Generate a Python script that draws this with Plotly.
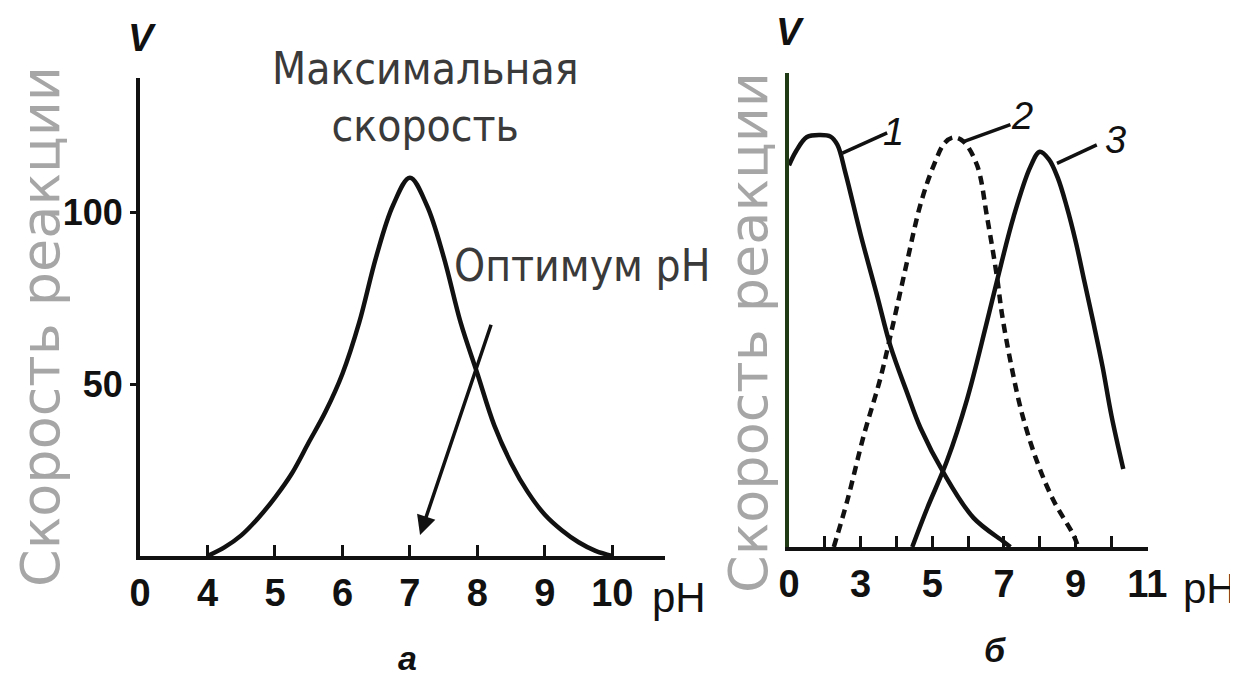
import plotly.graph_objects as go

# ---------------- data ----------------
# Panel "а": single enzyme, rate vs pH (axis broken: origin labelled 0, then 4..10)
ph_a = [4.0, 4.25, 4.5, 4.75, 5.0, 5.25, 5.5, 5.75, 6.0, 6.25, 6.5, 6.75, 7.0, 7.25, 7.5, 7.75, 8.0, 8.25, 8.5, 8.75, 9.0, 9.25, 9.5, 9.75, 10.0]
v_a = [0, 2.5, 6, 11, 17, 24, 33, 42, 53, 68, 87, 102, 110, 102, 87, 68, 53, 38, 27, 18.5, 12, 7.5, 4, 1.5, 0]

# Panel "б": three enzymes (1, 2 dashed, 3)
ph_1 = [1.0, 1.2, 1.5, 1.88, 2.16, 2.35, 2.58, 3.0, 3.46, 3.83, 4.3, 4.67, 5.32, 6.15, 6.99, 7.18]
v_1 = [93, 96.5, 99.9, 100.4, 100.0, 98.0, 91.0, 76.1, 61.2, 49.0, 37.5, 29.0, 18.0, 7.1, 1.3, 0]
ph_2 = [2.25, 2.63, 3.09, 3.55, 3.92, 4.3, 4.67, 5.04, 5.35, 5.6, 5.87, 6.25, 6.53, 6.81, 6.94, 7.18, 7.5, 7.92, 8.38, 8.94, 9.07]
v_2 = [0, 11.4, 27.3, 41.1, 54.9, 69.7, 83.5, 93.0, 98.5, 99.8, 98.8, 93.0, 80.3, 65.5, 57.0, 45.3, 32.6, 20.9, 11.4, 2.9, 0]
ph_3 = [4.44, 4.86, 5.41, 5.97, 6.5, 6.81, 7.27, 7.73, 8.0, 8.25, 8.5, 8.75, 9.0, 9.25, 9.5, 9.75, 10.0, 10.33]
v_3 = [0, 9.5, 21, 36, 54, 65, 80.5, 92.5, 96.3, 94.5, 90, 83, 74.5, 64.5, 54.5, 44, 32, 19]

# tick labels
ticks_a_vals = [3, 4, 5, 6, 7, 8, 9, 10]
ticks_a_text = ["0", "4", "5", "6", "7", "8", "9", "10"]
ticks_b_vals = [1, 2, 3, 4, 5, 6, 7, 8, 9, 10, 11]
ticks_b_text = ["0", "", "3", "", "5", "", "7", "", "9", "", "11"]
yticks_a_vals = [50, 100]
yticks_a_text = ["50", "100"]

# annotation anchors (data coords)
arrow_tail = (8.21, 67.7)
arrow_head = (7.15, 6.1)
leaders = {"1": ((2.49, 96.0), (3.74, 100.9), (3.92, 101.1)),
           "2": ((5.87, 98.8), (7.18, 102.9), (7.51, 105.0)),
           "3": ((8.48, 93.5), (9.59, 98.0), (10.10, 99.2))}

# the page body has an 8px margin: the figure is sized to fill the rest of the window
PAGE_W, PAGE_H, BODY = 1238, 682, 8
W, H = PAGE_W - BODY, PAGE_H - BODY
def px(x): return (x - BODY) / W
def py(y): return 1 - (y - BODY) / H

INK = "#111111"

fig = go.Figure()
line_kw = dict(color=INK, width=4.5, shape="spline", smoothing=1.0)
fig.add_trace(go.Scatter(x=ph_a, y=v_a, mode="lines", line=line_kw, xaxis="x", yaxis="y", hoverinfo="skip"))
fig.add_trace(go.Scatter(x=ph_1, y=v_1, mode="lines", line=line_kw, xaxis="x2", yaxis="y2", hoverinfo="skip"))
fig.add_trace(go.Scatter(x=ph_2, y=v_2, mode="lines", line=dict(line_kw, dash="9px,6px"),
                         xaxis="x2", yaxis="y2", hoverinfo="skip"))
fig.add_trace(go.Scatter(x=ph_3, y=v_3, mode="lines", line=line_kw, xaxis="x2", yaxis="y2", hoverinfo="skip"))

tickfont = dict(family="Liberation Sans, sans-serif", size=38, color=INK, weight="bold")
axis_common = dict(showgrid=False, zeroline=False, showline=True, linecolor=INK, linewidth=4, automargin=False)

fig.update_layout(
    width=W, height=H, margin=dict(l=0, r=0, t=0, b=0, autoexpand=False),
    paper_bgcolor="white", plot_bgcolor="white", showlegend=False,
    xaxis=dict(domain=[px(140), px(665)], range=[3, 10.78], anchor="y",
               tickmode="array", tickvals=ticks_a_vals, ticktext=ticks_a_text,
               ticks="inside", ticklen=11, tickwidth=3, tickcolor=INK, tickfont=tickfont, **axis_common),
    yaxis=dict(domain=[py(556), py(78)], range=[0, 139], anchor="x",
               tickmode="array", tickvals=yticks_a_vals, ticktext=yticks_a_text,
               ticks="outside", ticklen=6, tickwidth=3, tickcolor=INK,
               tickfont=dict(family="Liberation Sans, sans-serif", size=36, color=INK, weight="bold"), **axis_common),
    xaxis2=dict(domain=[px(789), px(1148)], range=[1, 11.02], anchor="y2",
                tickmode="array", tickvals=ticks_b_vals, ticktext=ticks_b_text,
                ticks="inside", ticklen=11, tickwidth=3, tickcolor=INK, tickfont=tickfont, **axis_common),
    yaxis2=dict(domain=[py(547), py(73)], range=[0, 115.5], anchor="x2",
                showticklabels=False, ticks="", showgrid=False, zeroline=False, automargin=False,
                showline=True, linecolor="#1f3a14", linewidth=4),
)

ann = []
title_font = dict(family="DejaVu Sans, sans-serif", size=54, color="#a6a6a6")
ann.append(dict(text="Скорость реакции", x=px(40), y=py(327), xref="paper", yref="paper",
                textangle=-90, showarrow=False, font=title_font, xanchor="center", yanchor="middle"))
ann.append(dict(text="Скорость реакции", x=px(748), y=py(333), xref="paper", yref="paper",
                textangle=-90, showarrow=False, font=title_font, xanchor="center", yanchor="middle"))
label_font = dict(family="DejaVu Sans Condensed, Liberation Sans, sans-serif", size=44, color="#3a3a3a")
ann.append(dict(text="Максимальная<br>скорость", x=px(425), y=py(97), xref="paper", yref="paper",
                showarrow=False, font=label_font, xanchor="center", yanchor="middle"))
ann.append(dict(text="Оптимум pH", x=px(582), y=py(265), xref="paper", yref="paper",
                showarrow=False, font=label_font, xanchor="center", yanchor="middle"))
ph_font = dict(family="Liberation Sans, sans-serif", size=42, color=INK)
ann.append(dict(text="pH", x=px(679), y=py(597), xref="paper", yref="paper",
                showarrow=False, font=ph_font, xanchor="center", yanchor="middle"))
ann.append(dict(text="pH", x=px(1210), y=py(588), xref="paper", yref="paper",
                showarrow=False, font=ph_font, xanchor="center", yanchor="middle"))
it_font = dict(family="Liberation Sans, sans-serif", size=38, color=INK, style="italic", weight="bold")
ann.append(dict(text="V", x=px(142), y=py(38), xref="paper", yref="paper",
                showarrow=False, font=it_font, xanchor="center", yanchor="middle"))
ann.append(dict(text="V", x=px(790), y=py(32), xref="paper", yref="paper",
                showarrow=False, font=it_font, xanchor="center", yanchor="middle"))
sub_font = dict(family="Liberation Sans, sans-serif", size=34, color=INK, style="italic", weight="bold")
ann.append(dict(text="а", x=px(407), y=py(658), xref="paper", yref="paper",
                showarrow=False, font=sub_font, xanchor="center", yanchor="middle"))
ann.append(dict(text="б", x=px(995), y=py(650), xref="paper", yref="paper",
                showarrow=False, font=sub_font, xanchor="center", yanchor="middle"))
# arrow "Оптимум pH"
ann.append(dict(x=arrow_head[0], y=arrow_head[1], ax=arrow_tail[0], ay=arrow_tail[1],
                xref="x", yref="y", axref="x", ayref="y", text="", showarrow=True,
                arrowhead=2, arrowsize=1.1, arrowwidth=3.5, arrowcolor=INK))
# leader lines + numbers
shapes = []
for name, (p0, p1, pt) in leaders.items():
    shapes.append(dict(type="line", xref="x2", yref="y2", x0=p0[0], y0=p0[1], x1=p1[0], y1=p1[1],
                       line=dict(color=INK, width=3.5)))
    ann.append(dict(text=name, x=pt[0], y=pt[1], xref="x2", yref="y2", showarrow=False,
                    font=dict(family="Liberation Sans, sans-serif", size=38, color=INK, style="italic"),
                    xanchor="center", yanchor="middle"))

fig.update_layout(annotations=ann, shapes=shapes)
fig.write_html("out.html")
